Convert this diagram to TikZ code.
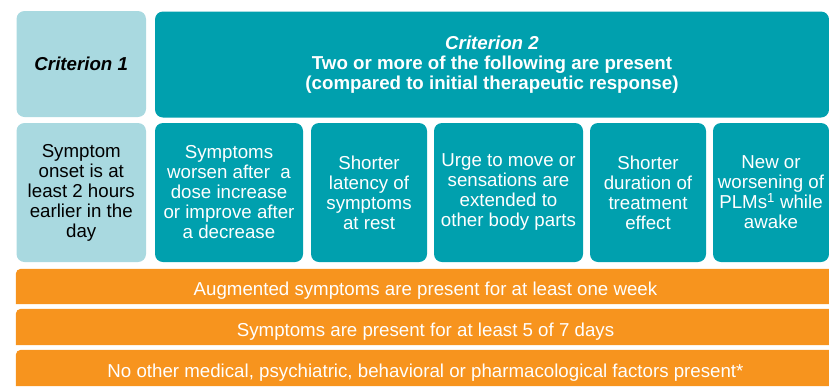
\documentclass[tikz,border=0pt]{standalone}
\usepackage{fontspec}
\setmainfont{Liberation Sans}
\usetikzlibrary{backgrounds}
\definecolor{critlight}{HTML}{A9D9E0}
\definecolor{critteal}{HTML}{00A0AE}
\definecolor{barorange}{HTML}{F7941E}
\begin{document}
\begin{tikzpicture}[x=1pt,y=-1pt,
  box/.style={rectangle, rounded corners=8pt, inner sep=0pt, align=center,
    font=\fontsize{18.7}{20}\selectfont},
  lightbox/.style={box, fill=critlight, text=black},
  tealbox/.style={box, fill=critteal, text=white},
  bartext/.style={rectangle, inner sep=0pt, text=white, minimum width=819pt,
    text height=18.4pt, text depth=0pt,
    font=\fontsize{18.7}{20}\selectfont},
]
\useasboundingbox (0,0) rectangle (829,386);
\clip (0,0) rectangle (829,386);

% header row
\node[lightbox, minimum width=129.5pt, minimum height=106pt] (crit1) at (81.25,64)
  {\bfseries\itshape Criterion 1};
\node[tealbox, minimum width=674pt, minimum height=106pt] (crit2) at (492,64.5)
  {\bfseries{\itshape Criterion 2}\\\bfseries Two or more of the following are present\\
   \bfseries (compared to initial therapeutic response)};

% criteria row
\node[lightbox, minimum width=129.5pt, minimum height=139pt] (onset) at (81.25,192.5)
  {Symptom\\onset is at\\least 2 hours\\earlier in the\\day};
\node[tealbox, minimum width=148pt, minimum height=139pt] (dose) at (229,192.5)
  {Symptoms\\worsen after~ a\\dose increase\\or improve after\\a decrease};
\node[tealbox, minimum width=116pt, minimum height=139pt] (latency) at (369,192.5)
  {Shorter\\latency of\\symptoms\\at rest};
\node[tealbox, minimum width=149pt, minimum height=139pt] (spread) at (508.5,192.5)
  {Urge to move or\\sensations are\\extended to\\other body parts};
\node[tealbox, minimum width=116pt, minimum height=139pt] (duration) at (648,192.5)
  {Shorter\\duration of\\treatment\\effect};
\node[tealbox, minimum width=116pt, minimum height=139pt] (plms) at (771,192.5)
  {New or\\worsening of\\PLMs\textsuperscript{1} while\\awake};

% conditions bars
\node[bartext, minimum height=35pt] (bar1) at (425.5,286.5)
  {Augmented symptoms are present for at least one week};
\node[bartext, minimum height=36pt] (bar2) at (425.5,327)
  {Symptoms are present for at least 5 of 7 days};
\node[bartext, minimum height=36pt] (bar3) at (425.5,368)
  {No other medical, psychiatric, behavioral or pharmacological factors present*};

\begin{scope}[on background layer]
  \foreach \b in {bar1,bar2,bar3}
    \fill[barorange] (\b.south west) [rounded corners=5pt] -- (\b.north west)
      -- (\b.north east) [sharp corners] -- (\b.south east) -- cycle;
\end{scope}
\end{tikzpicture}
\end{document}
